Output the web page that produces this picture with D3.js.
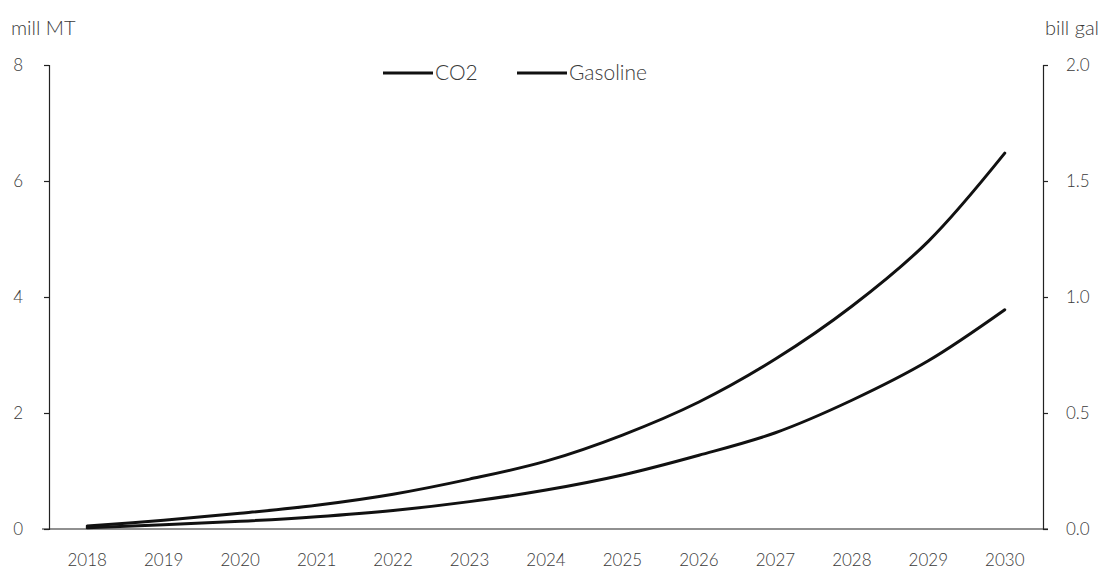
<!DOCTYPE html>
<html>
<head>
<meta charset="utf-8">
<script src="https://cdn.jsdelivr.net/npm/d3@7"></script>
<style>
  html, body { margin: 0; padding: 0; background: #fff; }
  svg { display: block; font-family: Lato, "Open Sans", sans-serif; }
</style>
</head>
<body>
<svg id="chart" width="1104" height="574"></svg>
<script>
// Years on the category axis
const years = ["2018","2019","2020","2021","2022","2023","2024","2025","2026","2027","2028","2029","2030"];
// CO2 reduction, million metric tons (left axis)
const co2 = [0.05, 0.15, 0.27, 0.41, 0.60, 0.86, 1.17, 1.62, 2.19, 2.93, 3.84, 4.96, 6.48];
// Gasoline displaced, billion gallons (right axis)
const gasoline = [0.005, 0.018, 0.033, 0.053, 0.080, 0.118, 0.168, 0.233, 0.318, 0.415, 0.555, 0.725, 0.945];
// Axis ticks and labels
const leftTicks = [0, 2, 4, 6, 8];
const rightTicks = [0, 0.5, 1.0, 1.5, 2.0];
const seriesNames = ["CO2", "Gasoline"];
const leftUnit = "mill MT";
const rightUnit = "bill gal";

const svg = d3.select("#chart");
const plotLeft = 49, plotRight = 1043, plotTop = 65, plotBottom = 529;
const ink = "#222";
const textColor = "#3a3a3a";

const x = d3.scaleBand().domain(years).range([plotLeft, plotRight]);
const yL = d3.scaleLinear().domain([0, 8]).range([plotBottom, plotTop]);
const yR = d3.scaleLinear().domain([0, 2]).range([plotBottom, plotTop]);

// Left axis
const gL = svg.append("g").attr("transform", `translate(${plotLeft},0)`)
  .call(d3.axisLeft(yL).tickValues(leftTicks).tickFormat(d3.format("d")).tickSize(5).tickPadding(21));
// Right axis
const gR = svg.append("g").attr("transform", `translate(${plotRight},0)`)
  .call(d3.axisRight(yR).tickValues(rightTicks).tickFormat(d3.format(".1f")).tickSize(5).tickPadding(18));
// Category axis
const gX = svg.append("g").attr("transform", `translate(0,${plotBottom})`)
  .call(d3.axisBottom(x).tickSize(0).tickPadding(25).tickSizeOuter(0));

[gL, gR, gX].forEach(g => {
  g.selectAll(".domain").attr("stroke", ink).attr("stroke-width", 1.2);
  g.selectAll(".tick line").attr("stroke", ink).attr("stroke-width", 1.2);
  g.selectAll("text").attr("fill", textColor).attr("font-family", "Lato, sans-serif")
    .attr("font-size", 17).attr("font-weight", 300);
});
gX.selectAll(".domain").attr("d", `M${plotLeft - 7},0H${plotRight + 5}`);

// Unit labels
svg.append("text").attr("x", 11).attr("y", 35).attr("font-size", 20).attr("font-weight", 300)
  .attr("fill", textColor).text(leftUnit);
svg.append("text").attr("x", 1099).attr("y", 35).attr("text-anchor", "end").attr("font-size", 20)
  .attr("font-weight", 300).attr("fill", textColor).text(rightUnit);

// Series lines
const cx = (d, i) => x(years[i]) + x.bandwidth() / 2;
const lineL = d3.line().x(cx).y(d => yL(d)).curve(d3.curveCatmullRom.alpha(0.5));
const lineR = d3.line().x(cx).y(d => yR(d)).curve(d3.curveCatmullRom.alpha(0.5));

svg.append("path").datum(co2).attr("d", lineL)
  .attr("fill", "none").attr("stroke", "#111").attr("stroke-width", 3).attr("stroke-linecap", "round");
svg.append("path").datum(gasoline).attr("d", lineR)
  .attr("fill", "none").attr("stroke", "#111").attr("stroke-width", 3).attr("stroke-linecap", "round");

// Legend
const legend = svg.append("g").attr("transform", "translate(383,73)");
const legX = [0, 134];
seriesNames.forEach((name, i) => {
  const g = legend.append("g").attr("transform", `translate(${legX[i]},0)`);
  g.append("line").attr("x1", 0).attr("x2", 50).attr("y1", 0).attr("y2", 0)
    .attr("stroke", "#111").attr("stroke-width", 3);
  g.append("text").attr("x", 52).attr("y", 7).attr("font-size", 21).attr("font-weight", 300)
    .attr("fill", textColor).text(name);
});
</script>
</body>
</html>
